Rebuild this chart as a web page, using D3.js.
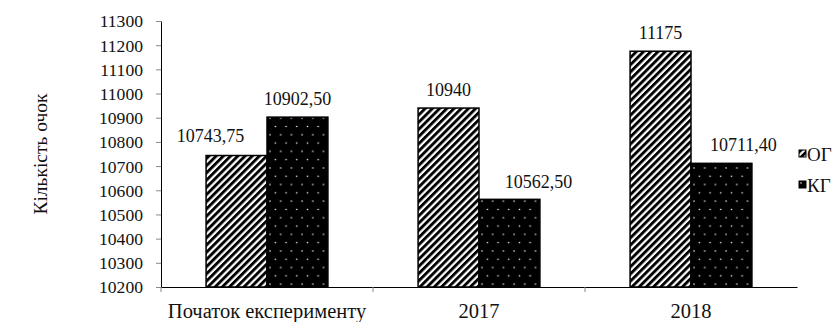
<!DOCTYPE html>
<html>
<head>
<meta charset="utf-8">
<script src="https://cdn.jsdelivr.net/npm/d3@7"></script>
<style>
  html, body { margin: 0; padding: 0; background: #fff; }
  svg { display: block; }
  svg text { font-family: "Liberation Serif", "Times New Roman", serif; fill: #111; }
</style>
</head>
<body>
<svg id="chart" width="836" height="322"></svg>
<script>
// Categories and series
const categories = ["Початок експерименту", "2017", "2018"];
const seriesNames = ["ОГ", "КГ"];
const ogValues = [10743.75, 10940, 11175];
const kgValues = [10902.50, 10562.50, 10711.40];
const ogLabels = ["10743,75", "10940", "11175"];
const kgLabels = ["10902,50", "10562,50", "10711,40"];
const yTicks = [10200, 10300, 10400, 10500, 10600, 10700, 10800, 10900, 11000, 11100, 11200, 11300];
const yTitle = "Кількість очок";

// Layout
const svg = d3.select("#chart");
const plot = { left: 161, right: 797, top: 21, bottom: 287 };
const tickFont = 17.6, valueFont = 18, catFont = 20.5, titleFont = 19.5, legendFont = 19;
// Horizontal nudges of value labels, [series][category], so neighbours don't collide
const labelNudge = [[-26, 0, 0], [0, 29, 22]];
const labelGap = [[14, 12, 12], [12, 11, 12]];

const defs = svg.append("defs");
// Diagonal hatch for ОГ
const hatch = defs.append("pattern")
  .attr("id", "hatch").attr("patternUnits", "userSpaceOnUse")
  .attr("width", 5.1).attr("height", 5.1)
  .attr("patternTransform", "rotate(45)");
hatch.append("rect").attr("width", 5.1).attr("height", 5.1).attr("fill", "#fff");
hatch.append("rect").attr("x", 0).attr("width", 2.9).attr("height", 5.1).attr("fill", "#000");

// Dotted black fill for КГ
const dots = defs.append("pattern")
  .attr("id", "dots").attr("patternUnits", "userSpaceOnUse")
  .attr("width", 10.7).attr("height", 16.6);
dots.append("rect").attr("width", 10.7).attr("height", 16.6).attr("fill", "#000");
dots.append("circle").attr("cx", 2).attr("cy", 2).attr("r", 0.8).attr("fill", "#fff");
dots.append("circle").attr("cx", 7.35).attr("cy", 10.3).attr("r", 0.8).attr("fill", "#fff");

const fills = ["url(#hatch)", "url(#dots)"];

const x0 = d3.scaleBand().domain(categories).range([plot.left, plot.right]).paddingInner(0).paddingOuter(0);
const x1 = d3.scaleBand().domain(seriesNames).range([0, x0.bandwidth()]).paddingInner(0).paddingOuter(0.74);
const y = d3.scaleLinear().domain([10200, 11300]).range([plot.bottom, plot.top]);

// Y axis
const yAxis = d3.axisLeft(y).tickValues(yTicks).tickSize(5).tickSizeOuter(0).tickFormat(d3.format("d"));
const gy = svg.append("g").attr("transform", `translate(${plot.left},0)`).call(yAxis);
gy.attr("font-family", null).attr("font-size", null);
gy.select(".domain").attr("stroke", "#000").attr("stroke-width", 1);
gy.selectAll(".tick line").attr("stroke", "#888");
gy.selectAll(".tick text").attr("font-size", tickFont).attr("x", -18).attr("dy", "0.34em");

// X axis
const xAxis = d3.axisBottom(x0).tickSize(0).tickSizeOuter(0);
const gx = svg.append("g").attr("transform", `translate(0,${plot.bottom})`).call(xAxis);
gx.attr("font-family", null).attr("font-size", null);
gx.select(".domain").attr("stroke", "#000").attr("stroke-width", 1.2);
gx.selectAll(".tick text").attr("font-size", catFont).attr("y", 31).attr("dy", 0);
// Category separator ticks
gx.selectAll(".sep").data(categories.slice(1))
  .enter().append("line").attr("class", "sep")
  .attr("x1", d => x0(d)).attr("x2", d => x0(d))
  .attr("y1", 0).attr("y2", 5).attr("stroke", "#888");
gx.append("line").attr("x1", plot.left).attr("x2", plot.left).attr("y1", 0).attr("y2", 5).attr("stroke", "#888");

// Bars
const data = categories.map((c, i) => ({ c, i, vals: [ogValues[i], kgValues[i]], labels: [ogLabels[i], kgLabels[i]] }));
const groups = svg.append("g").selectAll("g").data(data).enter().append("g")
  .attr("transform", d => `translate(${x0(d.c)},0)`);

groups.selectAll("rect").data(d => d.vals.map((v, j) => ({ v, j, s: seriesNames[j] })))
  .enter().append("rect")
  .attr("x", d => x1(d.s))
  .attr("y", d => y(d.v))
  .attr("width", x1.bandwidth())
  .attr("height", d => y(10200) - y(d.v))
  .attr("fill", d => fills[d.j])
  .attr("stroke", "#000").attr("stroke-width", 1.5);

groups.selectAll("text.val").data(d => d.vals.map((v, j) => ({ v, j, i: d.i, s: seriesNames[j], t: d.labels[j] })))
  .enter().append("text").attr("class", "val")
  .attr("x", d => x1(d.s) + x1.bandwidth() / 2 + labelNudge[d.j][d.i])
  .attr("y", d => y(d.v) - labelGap[d.j][d.i])
  .attr("text-anchor", "middle")
  .attr("font-size", valueFont)
  .text(d => d.t);

// Y title
svg.append("text")
  .attr("transform", `translate(47,${(plot.top + plot.bottom) / 2}) rotate(-90)`)
  .attr("text-anchor", "middle")
  .attr("font-size", titleFont)
  .text(yTitle);

// Legend
const legend = svg.append("g").attr("transform", "translate(799,150)");
seriesNames.forEach((s, i) => {
  const g = legend.append("g").attr("transform", `translate(0,${i * 31})`);
  g.append("rect").attr("width", 7).attr("height", 7).attr("fill", fills[i]).attr("stroke", "#000").attr("stroke-width", 1);
  g.append("text").attr("x", 8).attr("y", 11).attr("font-size", legendFont).text(s);
});
</script>
</body>
</html>
